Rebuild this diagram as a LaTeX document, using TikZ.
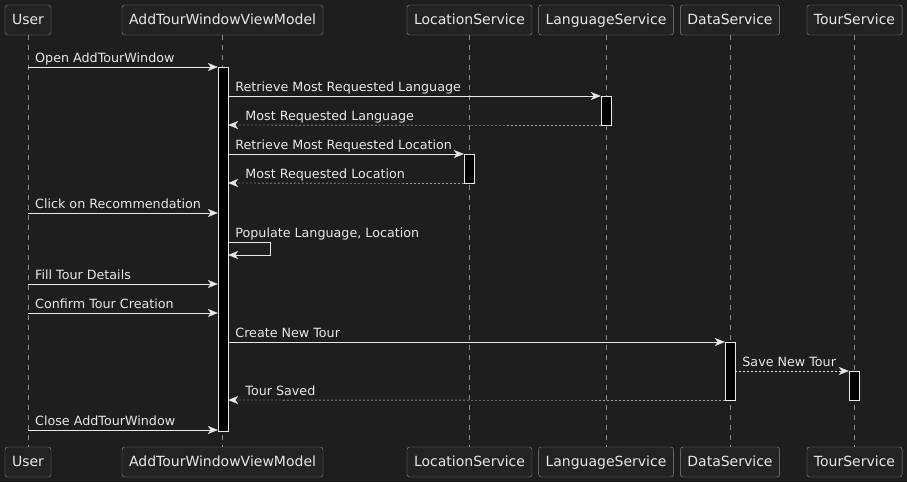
\documentclass[tikz,border=0pt]{standalone}
\usepackage{fontspec}
\setmainfont{DejaVu Sans}
\usetikzlibrary{arrows.meta,positioning}
\definecolor{bg}{HTML}{1E1E1E}
\definecolor{boxfill}{HTML}{232323}
\definecolor{boxline}{HTML}{8A8A8A}
\definecolor{ink}{HTML}{E8E8E8}
\tikzset{x=1pt,y=-1pt,
    party/.style={draw=boxline,fill=boxfill,rounded corners=2.5pt,
        minimum height=30pt,inner xsep=7pt,text height=12pt,text depth=3pt,
        text=ink,font=\fontsize{14}{16}\selectfont},
    life/.style={draw=boxline,dash pattern=on 5pt off 5pt},
    act/.style={draw=ink,fill=black,minimum width=10pt,inner sep=0pt,anchor=north},
    msg/.style={draw=ink,-{Stealth[length=10pt,width=8pt,inset=3pt]}},
    ret/.style={msg,dash pattern=on 2pt off 2pt},
    lbl/.style={pos=0,anchor=base west,xshift=7pt,yshift=5pt,inner sep=0pt,
        text=ink,font=\fontsize{12.7}{15}\selectfont},
    rlbl/.style={lbl,pos=1,xshift=10pt},
    }

\begin{document}
\begin{tikzpicture}
\fill[bg] (0,0) rectangle (907,482);
% participants, top and bottom, with lifelines
\foreach \n/\x/\t in {user/28/User,avm/222.5/AddTourWindowViewModel,
    loc/469.5/LocationService,lang/606/LanguageService,
    data/730/DataService,tour/854.5/TourService}{
  \node[party] (\n) at (\x,20) {\t};
  \node[party] (\n-bot) at (\x,462) {\t};
  \draw[life] (\n) -- (\n-bot);
}
% activations
\node[act,minimum height=364pt] (avm-act) at (223,67) {};
\node[act,minimum height=29pt] (lang-act) at (606,96) {};
\node[act,minimum height=29pt] (loc-act) at (469,154) {};
\node[act,minimum height=58pt] (data-act) at (730,342) {};
\node[act,minimum height=29pt] (tour-act) at (854,371) {};
% messages
\draw[msg] (user |- 0,67) -- (avm-act.north west)
    node[lbl]{Open AddTourWindow};
\draw[msg] (avm-act.east |- 0,96) -- (lang-act.north west)
    node[lbl]{Retrieve Most Requested Language};
\draw[ret] (lang-act.south west) -- (avm-act.east |- 0,125)
    node[rlbl]{Most Requested Language};
\draw[msg] (avm-act.east |- 0,154) -- (loc-act.north west)
    node[lbl]{Retrieve Most Requested Location};
\draw[ret] (loc-act.south west) -- (avm-act.east |- 0,183)
    node[rlbl]{Most Requested Location};
\draw[msg] (user |- 0,213) -- (avm-act.west |- 0,213)
    node[lbl]{Click on Recommendation};
\draw[msg] (avm-act.east |- 0,242)
    node[anchor=base west,xshift=7pt,yshift=5pt,inner sep=0pt,text=ink,
        font=\fontsize{12.7}{15}\selectfont]{Populate Language, Location}
    -- ++(42,0) -- ++(0,13) -- (avm-act.east |- 0,255);
\draw[msg] (user |- 0,284) -- (avm-act.west |- 0,284)
    node[lbl]{Fill Tour Details};
\draw[msg] (user |- 0,313) -- (avm-act.west |- 0,313)
    node[lbl]{Confirm Tour Creation};
\draw[msg] (avm-act.east |- 0,342) -- (data-act.north west)
    node[lbl]{Create New Tour};
\draw[ret] (data-act.east |- 0,371) -- (tour-act.north west)
    node[lbl]{Save New Tour};
\draw[ret] (data-act.south west) -- (avm-act.east |- 0,400)
    node[rlbl]{Tour Saved};
\draw[msg] (user |- 0,430) -- (avm-act.west |- 0,430)
    node[lbl]{Close AddTourWindow};
\end{tikzpicture}
\end{document}
